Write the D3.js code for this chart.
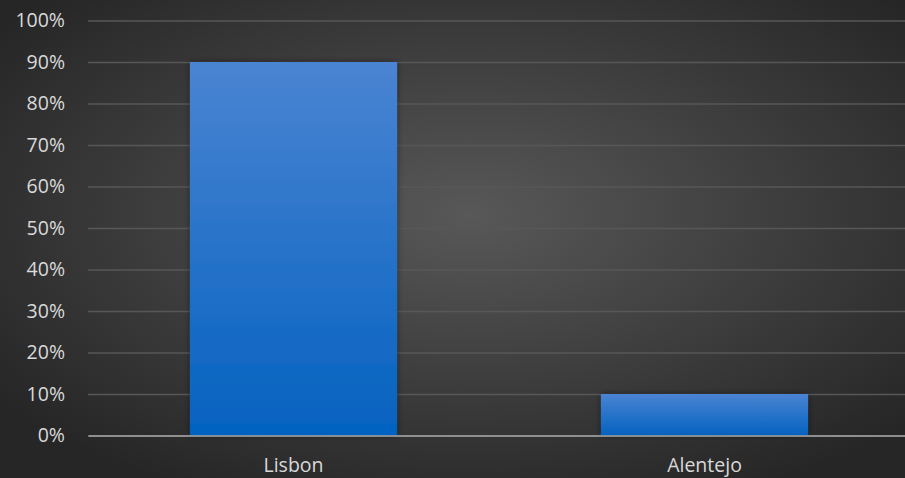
<!DOCTYPE html>
<html>
<head>
<meta charset="utf-8">
<script src="https://cdn.jsdelivr.net/npm/d3@7"></script>
<style>
  html, body { margin: 0; padding: 0; background: #333; }
  .tick-label { font-family: "Open Sans", sans-serif; font-size: 19.5px; fill: #d9d9d9; }
</style>
</head>
<body>
<div class="chart"></div>
<script>
const WIDTH = 905, HEIGHT = 478;
const MARGIN = { TOP: 20.5, RIGHT: -5, BOTTOM: 42.5, LEFT: 88 };

// data
const regions = ["Lisbon", "Alentejo"];
const shares = [0.90, 0.10];
const yTicks = [0, 0.1, 0.2, 0.3, 0.4, 0.5, 0.6, 0.7, 0.8, 0.9, 1.0];

const svg = d3.select(".chart").append("svg")
  .attr("width", WIDTH).attr("height", HEIGHT);

const defs = svg.append("defs");

// background radial gradient
const bg = defs.append("radialGradient").attr("id", "bg")
  .attr("cx", "52%").attr("cy", "45%").attr("r", "65%");
bg.append("stop").attr("offset", "0%").attr("stop-color", "#585858");
bg.append("stop").attr("offset", "100%").attr("stop-color", "#262626");

// bar gradient
const barGrad = defs.append("linearGradient").attr("id", "barGrad")
  .attr("x1", 0).attr("y1", 0).attr("x2", 0).attr("y2", 1);
barGrad.append("stop").attr("offset", "0%").attr("stop-color", "#4a84d2");
barGrad.append("stop").attr("offset", "100%").attr("stop-color", "#0462c0");

const shadow = defs.append("filter").attr("id", "shadow")
  .attr("x", "-10%").attr("y", "-10%").attr("width", "120%").attr("height", "120%");
shadow.append("feDropShadow").attr("dx", 0).attr("dy", 0).attr("stdDeviation", 3)
  .attr("flood-color", "#000").attr("flood-opacity", 0.45);

svg.append("rect").attr("width", WIDTH).attr("height", HEIGHT).attr("fill", "url(#bg)");

// scales
const xScale = d3.scaleBand()
  .domain(regions)
  .range([MARGIN.LEFT, WIDTH - MARGIN.RIGHT])
  .paddingInner(0.496)
  .paddingOuter(0.248);

const yScale = d3.scaleLinear()
  .domain([0, 1])
  .range([HEIGHT - MARGIN.BOTTOM, MARGIN.TOP]);

// grid
const yGrid = svg.append("g")
  .attr("transform", `translate(${MARGIN.LEFT}, 0)`)
  .call(d3.axisLeft(yScale).tickValues(yTicks)
    .tickSize(-(WIDTH - MARGIN.LEFT - MARGIN.RIGHT)).tickFormat(""));
yGrid.select(".domain").remove();
yGrid.selectAll(".tick line").attr("stroke", "#575757").attr("stroke-width", 1.3);

// y labels
const yAxis = svg.append("g")
  .attr("transform", `translate(${MARGIN.LEFT}, 0)`)
  .call(d3.axisLeft(yScale).tickValues(yTicks).tickSize(0).tickPadding(23)
    .tickFormat(d3.format(".0%")));
yAxis.select(".domain").remove();
yAxis.selectAll("text").attr("class", "tick-label");

// bars
svg.append("g").selectAll("rect")
  .data(regions)
  .join("rect")
  .attr("x", d => xScale(d))
  .attr("y", (d, i) => yScale(shares[i]))
  .attr("width", xScale.bandwidth())
  .attr("height", (d, i) => yScale(0) - yScale(shares[i]))
  .attr("fill", "url(#barGrad)")
  .attr("filter", "url(#shadow)");

// x axis
const xAxis = svg.append("g")
  .attr("transform", `translate(0, ${yScale(0)})`)
  .call(d3.axisBottom(xScale).tickSize(0).tickPadding(23));
xAxis.select(".domain").attr("stroke", "#a6a6a6").attr("stroke-width", 1.5);
xAxis.selectAll("text").attr("class", "tick-label");
</script>
</body>
</html>
